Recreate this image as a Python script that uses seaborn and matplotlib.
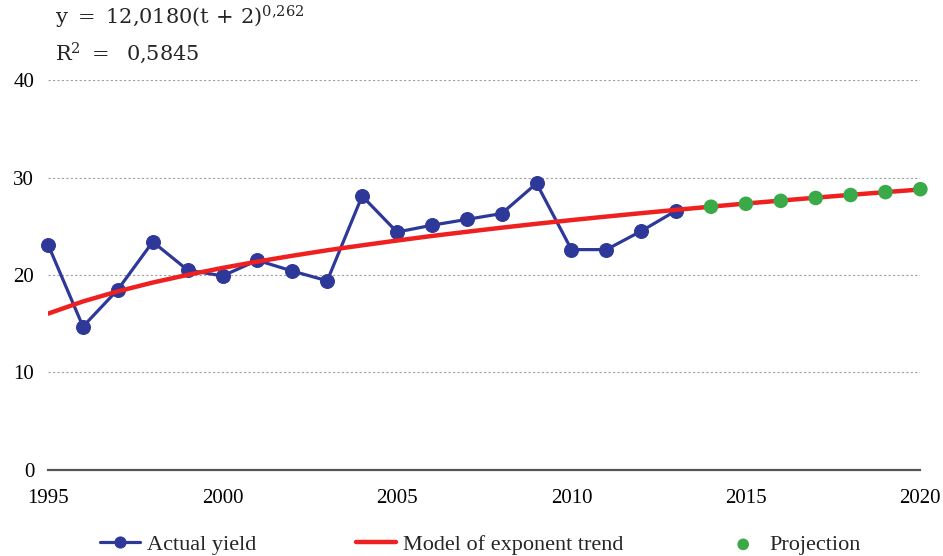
import matplotlib
matplotlib.use('Agg')
from matplotlib import pyplot as plt
import pandas as pd
import seaborn as sns

# Actual yield 1995-2013
years_actual = list(range(1995, 2014))
actual_yield = [23.1, 14.7, 18.5, 23.4, 20.5, 19.9, 21.5, 20.4, 19.4, 28.1,
                24.4, 25.1, 25.7, 26.3, 29.4, 22.6, 22.6, 24.5, 26.6]

# Model of exponent trend, 1995-2020
years_trend = list(range(1995, 2021))
trend_yield = [16.03, 17.28, 18.32, 19.22, 20.01, 20.72, 21.37, 21.97, 22.53,
               23.04, 23.53, 24.00, 24.43, 24.85, 25.25, 25.63, 25.99, 26.34,
               26.68, 27.01, 27.33, 27.63, 27.93, 28.22, 28.50, 28.77]

# Projection 2014-2020
years_proj = list(range(2014, 2021))
proj_yield = [27.0, 27.3, 27.6, 27.9, 28.2, 28.5, 28.8]

xticks = [1995, 2000, 2005, 2010, 2015, 2020]
yticks = [0, 10, 20, 30, 40]

BLUE = '#2E3899'
RED = '#EE2020'
GREEN = '#3AAA48'


def main():
  sns.set_style('white')
  plt.rcParams['font.family'] = ['Liberation Serif', 'DejaVu Serif']
  plt.rcParams['mathtext.fontset'] = 'dejavuserif'

  actual = pd.DataFrame({'year': years_actual, 'yield': actual_yield})
  trend = pd.DataFrame({'year': years_trend, 'yield': trend_yield})
  proj = pd.DataFrame({'year': years_proj, 'yield': proj_yield})

  fig = plt.figure(figsize=(9.43, 5.56), dpi=100)
  ax = fig.add_axes([0.051, 0.155, 0.925, 0.701])

  for y in yticks[1:]:
    ax.axhline(y, color='#A0A0A0', lw=0.8, ls=(0, (2, 2)), zorder=0)

  sns.lineplot(data=actual, x='year', y='yield', ax=ax, color=BLUE,
               lw=2.3, marker='o', markersize=10, markeredgecolor=BLUE,
               label='Actual yield', zorder=3, clip_on=False)
  sns.lineplot(data=trend, x='year', y='yield', ax=ax, color=RED,
               lw=3.2, label='Model of exponent trend', zorder=4)
  sns.scatterplot(data=proj, x='year', y='yield', ax=ax, color=GREEN,
                  s=110, edgecolor='none', label='Projection', zorder=5,
                  clip_on=False)

  ax.set_xlim(1995, 2020)
  ax.set_ylim(0, 40)
  ax.set_xticks(xticks)
  ax.set_yticks(yticks)
  ax.tick_params(axis='both', length=0, labelsize=15, colors='black')
  ax.tick_params(axis='x', pad=14)
  ax.tick_params(axis='y', pad=10)
  for side in ['top', 'right', 'left']:
    ax.spines[side].set_visible(False)
  ax.spines['bottom'].set_color('#555555')
  ax.spines['bottom'].set_linewidth(1.6)
  ax.set_xlabel('')
  ax.set_ylabel('')

  fig.text(0.058, 0.968, r'y $=$ 12,0180(t$\,+\,$2)$^{0{,}262}$',
           fontsize=15, family='DejaVu Serif', va='center')
  fig.text(0.058, 0.905, r'R$^{2}$ $=$  0,5845',
           fontsize=15, family='DejaVu Serif', va='center')

  ax.legend(loc='upper center', bbox_to_anchor=(0.496, -0.115), ncol=3,
            frameon=False, fontsize=16, columnspacing=4.5,
            handlelength=1.8, handletextpad=0.3, markerscale=0.8)

  fig.savefig('out.png', dpi=100)
  plt.close('all')


if __name__ == '__main__':
  main()
